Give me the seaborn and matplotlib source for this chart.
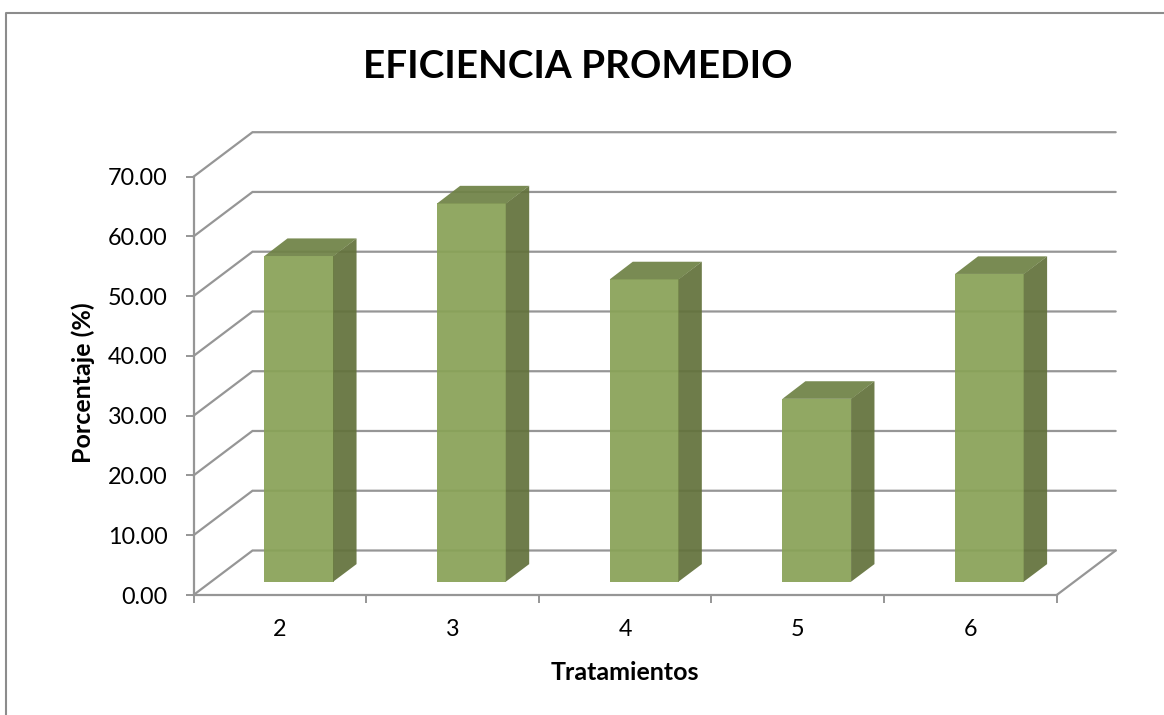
import matplotlib
matplotlib.use("Agg")
import matplotlib.pyplot as plt
from matplotlib.patches import Polygon
from matplotlib.lines import Line2D
import pandas as pd
import seaborn as sns

tratamientos = ["2", "3", "4", "5", "6"]
eficiencia = [54.5, 63.3, 50.6, 30.6, 51.5]
y_ticks = [0, 10, 20, 30, 40, 50, 60, 70]
y_labels = ["0.00", "10.00", "20.00", "30.00", "40.00", "50.00", "60.00", "70.00"]

W, H = 1164, 715
sns.set_theme(style="white")
plt.rcParams["font.family"] = ["Lato", "DejaVu Sans"]

GRAY = "#969696"
FRONT = "#89a257"
SIDE = "#63723c"
TOP = "#6f8246"

fig = plt.figure(figsize=(W / 100, H / 100), dpi=100, facecolor="white")
L, R, T, B = 193.5, 1056.7, 176.7, 595.0
ax = fig.add_axes([L / W, 1 - B / H, (R - L) / W, (B - T) / H])

df = pd.DataFrame({"t": tratamientos, "v": eficiencia})
sns.barplot(data=df, x="t", y="v", color=FRONT, saturation=1, width=0.40, ax=ax, zorder=5)
ax.set_xlim(-0.5, 4.5)
ax.set_ylim(0, 70)

px_x = (R - L) / 5
px_y = (B - T) / 70
wall_dx, wall_dy = 59 / px_x, 44.5 / px_y
bar_dx, bar_dy = 23 / px_x, 17.6 / px_y
shift, base = 19.2 / px_x, 13.3 / px_y
seam = 0.4 / px_x

# back wall gridlines
for v in y_ticks:
    ax.plot([-0.5, -0.5 + wall_dx, 4.5 + wall_dx], [v, v + wall_dy, v + wall_dy],
            color=GRAY, lw=1.6, clip_on=False, zorder=1, solid_joinstyle="miter")
ax.plot([4.5, 4.5 + wall_dx], [0, wall_dy], color=GRAY, lw=1.6, clip_on=False, zorder=1)

# 3D bars
for p, v in zip(ax.patches, eficiencia):
    p.set_x(p.get_x() + shift)
    p.set_y(base)
    p.set_height(v)
    p.set_alpha(0.93)
    p.set_linewidth(0)
    p.set_clip_on(False)
    x0, x1 = p.get_x(), p.get_x() + p.get_width()
    y0, y1 = base, base + v
    ax.add_patch(Polygon([(x1 - seam, y0), (x1 + bar_dx, y0 + bar_dy), (x1 + bar_dx, y1 + bar_dy), (x1 - seam, y1)],
                         closed=True, fc=SIDE, ec="none", alpha=0.93, clip_on=False, zorder=5))
    ax.add_patch(Polygon([(x0, y1), (x0 + bar_dx, y1 + bar_dy), (x1 + bar_dx, y1 + bar_dy), (x1, y1)],
                         closed=True, fc=TOP, ec="none", alpha=0.93, clip_on=False, zorder=5))

for s in ["top", "right"]:
    ax.spines[s].set_visible(False)
for s in ["left", "bottom"]:
    ax.spines[s].set_color(GRAY)
    ax.spines[s].set_linewidth(1.6)
    ax.spines[s].set_zorder(2)

ax.set_yticks(y_ticks, y_labels)
ax.set_xticks([x - 0.5 for x in range(6)], [""] * 6)
ax.tick_params(axis="both", which="major", direction="out", length=5.8, width=1.4, color=GRAY,
               labelsize=16.8, labelcolor="black", left=True, bottom=True)
ax.tick_params(axis="y", pad=13)
ax.set_xlabel("")
ax.set_ylabel("")
for i, lab in enumerate(tratamientos):
    fig.text((L + px_x * (i + 0.5)) / W, 1 - 630 / H, lab, ha="center", va="center",
             fontsize=16.8, color="black")

fig.text(577.5 / W, 1 - 66 / H, "EFICIENCIA PROMEDIO", ha="center", va="center",
         fontsize=27.8, fontweight="bold", color="black")
fig.text(625 / W, 1 - 673 / H, "Tratamientos", ha="center", va="center",
         fontsize=18, fontweight="bold", color="black")
fig.text(83 / W, 1 - 383 / H, "Porcentaje (%)", ha="center", va="center", rotation=90,
         fontsize=18, fontweight="bold", color="black")

fig.add_artist(Line2D([6 / W, 6 / W, 1], [0, 1 - 13 / H, 1 - 13 / H],
                      color="#8c8c8c", lw=1.5, transform=fig.transFigure))

fig.savefig("out.png", dpi=100, facecolor="white")
